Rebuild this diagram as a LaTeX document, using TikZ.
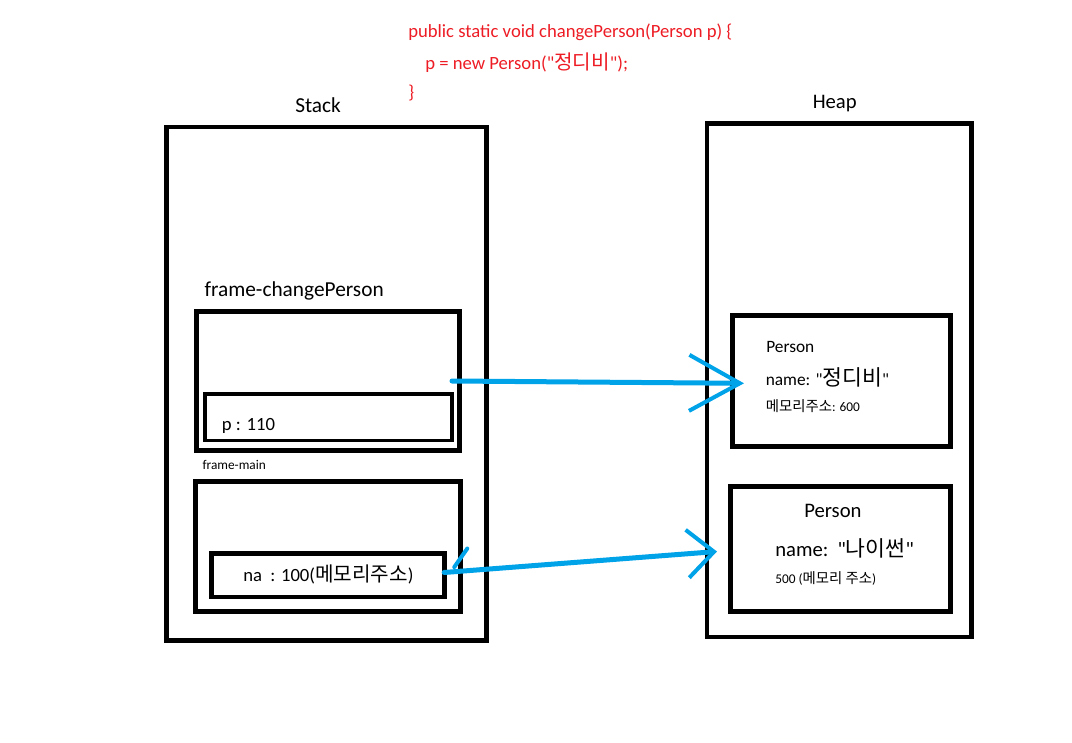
\documentclass[tikz,border=0pt]{standalone}
\usepackage{fontspec}
\setmainfont{Carlito}
\newfontfamily\kr{Noto Sans CJK KR}[Scale=1.08]
\newcommand\dq{\XeTeXglyph\XeTeXcharglyph"22\relax}
\usetikzlibrary{fit,arrows.meta}
\definecolor{arrowblue}{RGB}{0,162,232}
\definecolor{codered}{RGB}{237,28,36}
\begin{document}
\begin{tikzpicture}[x=0.75pt,y=-0.75pt,
  box/.style={draw=black, line width=3.75pt, inner sep=0pt},
  thinbox/.style={draw=black, line width=2.4pt, inner sep=0pt},
  lbl/.style={anchor=base west, inner sep=0pt, font=\fontsize{#1pt}{#1pt}\selectfont},
  code/.style={lbl=#1, text=codered},
  conn/.style={draw=arrowblue, line width=3.75pt, line cap=round}
]
\useasboundingbox (0,0) rectangle (1072,743);

% code text
\node[code=14] (c1) at (408,37) {public static void changePerson(Person p) \{};
\node[code=14] (c2) at (425,69) {p = new Person(\dq{\kr 정디비}\dq);};
\node[code=14] (c3) at (408,98) {\}};

% titles
\node[lbl=16] (stacklbl) at (295,112.5) {Stack};
\node[lbl=15.5] (heaplbl) at (812.5,108.5) {Heap};

% stack
\node[box, line width=3.6pt, fit={(166.5,127)(486.5,640.5)}] (stack) {};
\node[lbl=16] (fcplbl) at (204.3,296.7) {frame-changePerson};
\node[box, fit={(196,311.5)(459.5,450.5)}] (frame1) {};
\node[thinbox, fit={(205,394)(452,440.5)}] (p) {};
\node[lbl=14] (ptxt) at (221.7,430) {p : 110};
\node[lbl=10] (fmlbl) at (202.3,469) {frame-main};
\node[box, fit={(195,481.5)(460,611.5)}] (frame2) {};
\node[box, line width=3.4pt, fit={(211.7,553.3)(444.5,597)}] (na) {};
\node[lbl=14] (natxt) at (243,581) {na\ \ : 100({\kr 메모리주소})};

% heap
\node[box, line width=3.6pt, fit={(707,123.5)(971.5,637)}] (heap) {};
\node[box, fit={(732.5,315.5)(950.5,446.5)}] (person1) {};
\node[lbl=13] (p1a) at (766,352.7) {Person};
\node[lbl=13] (p1b) at (765.5,385) {name: \dq{\kr\fontsize{15pt}{15pt}\selectfont 정디비}\dq};
\node[lbl=10] (p1c) at (765.5,411.7) {{\kr 메모리주소}: 600};
\node[box, fit={(730.5,486.5)(950.5,611.5)}] (person2) {};
\node[lbl=15.5] (p2a) at (804,517.7) {Person};
\node[lbl=15.5] (p2b) at (775,556.7) {name:\ \ \dq{\kr\fontsize{15pt}{15pt}\selectfont 나이썬}\dq};
\node[lbl=10] (p2c) at (775,583) {500 ({\kr 메모리 주소})};

% connectors
\coordinate (s1) at ([xshift=-7.5pt]frame1.east);
\coordinate (t1) at (744,383.3);
\coordinate (t2) at (717,551.5);
\draw[conn, -{Straight Barb[length=38pt,width=42pt,line width=3pt]}] (s1) -- (t1);
\draw[conn, -{Straight Barb[length=20pt,width=36pt,line width=3pt]}] ([xshift=-2pt,yshift=2pt]na.east) -- (t2);
\draw[conn, line width=3pt] ([xshift=15.4pt,yshift=20pt]na.east) -- ([xshift=5.6pt,yshift=6pt]na.east);
\end{tikzpicture}
\end{document}
